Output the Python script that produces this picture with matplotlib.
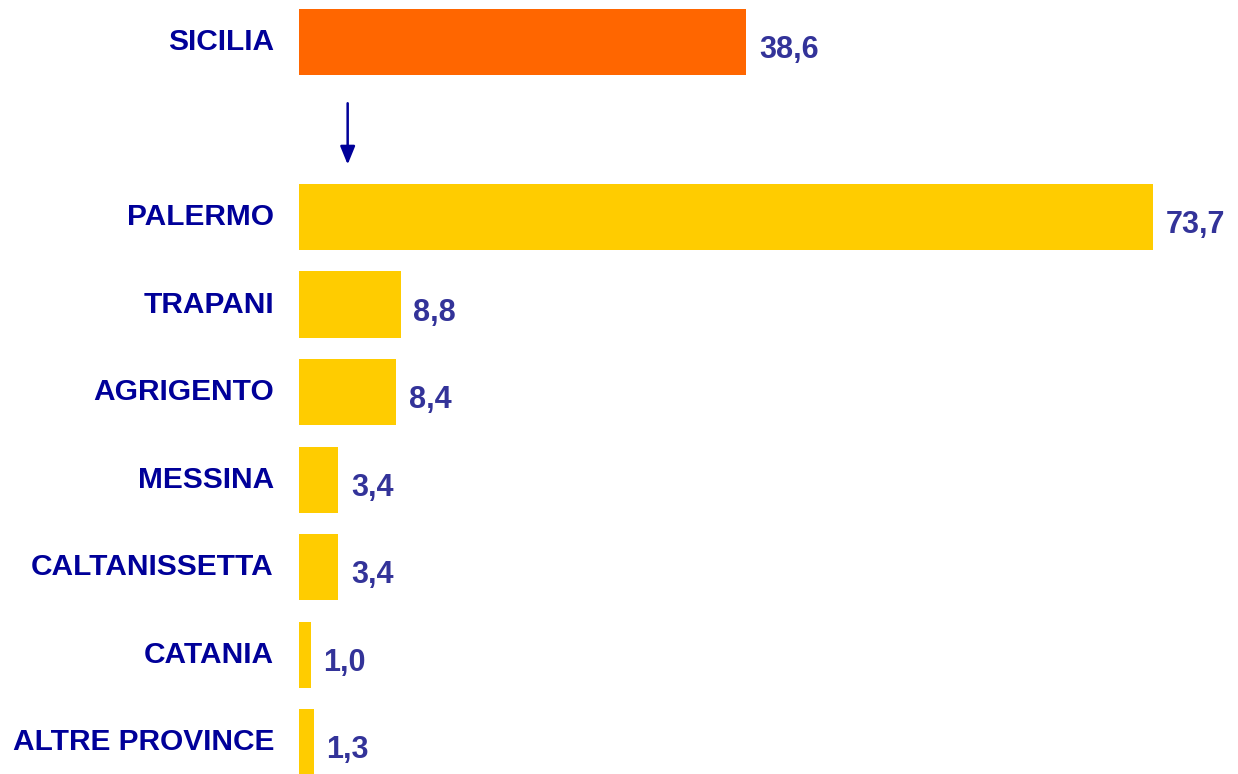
import matplotlib
matplotlib.use("Agg")
import matplotlib.pyplot as plt

# region total on top, provinces below (one empty slot for the arrow)
region = "SICILIA"
region_value = 38.6
provinces = ["PALERMO", "TRAPANI", "AGRIGENTO", "MESSINA",
             "CALTANISSETTA", "CATANIA", "ALTRE PROVINCE"]
province_values = [73.7, 8.8, 8.4, 3.4, 3.4, 1.0, 1.3]

ORANGE = "#FF6600"
YELLOW = "#FFCC00"
LABEL_BLUE = "#000099"
VALUE_BLUE = "#333399"
FONT = ["Liberation Sans", "DejaVu Sans"]

fig = plt.figure(figsize=(12.38, 7.74), dpi=100)
ax = fig.add_axes([0.2415, 0.0, 0.7585, 1.0])

labels = [region] + provinces
values = [region_value] + province_values
ypos = [0] + [i + 2 for i in range(len(provinces))]
colors = [ORANGE] + [YELLOW] * len(provinces)

ax.barh(ypos, values, height=0.755, color=colors)

for y, v in zip(ypos, values):
    ax.annotate(f"{v:.1f}".replace(".", ","), xy=(v, y), xytext=(9, -6),
                textcoords="offset points", ha="left", va="center",
                fontsize=22, fontweight="bold", color=VALUE_BLUE, family=FONT)

for y, lab in zip(ypos, labels):
    ax.annotate(lab, xy=(0, y), xytext=(-18, 0), textcoords="offset points",
                ha="right", va="center", fontsize=21.5, fontweight="bold",
                color=LABEL_BLUE, family=FONT, annotation_clip=False)

# arrow from region to provinces
ax.annotate("", xy=(4.2, 1.4), xytext=(4.2, 0.7),
            arrowprops=dict(arrowstyle="-|>,head_width=0.45,head_length=1.1",
                            color=LABEL_BLUE, lw=1.8, shrinkA=0, shrinkB=0))

ax.set_xlim(0, 81)
ax.set_ylim(8.365, -0.48)
ax.axis("off")

fig.savefig("out.png", dpi=100, facecolor="white")
